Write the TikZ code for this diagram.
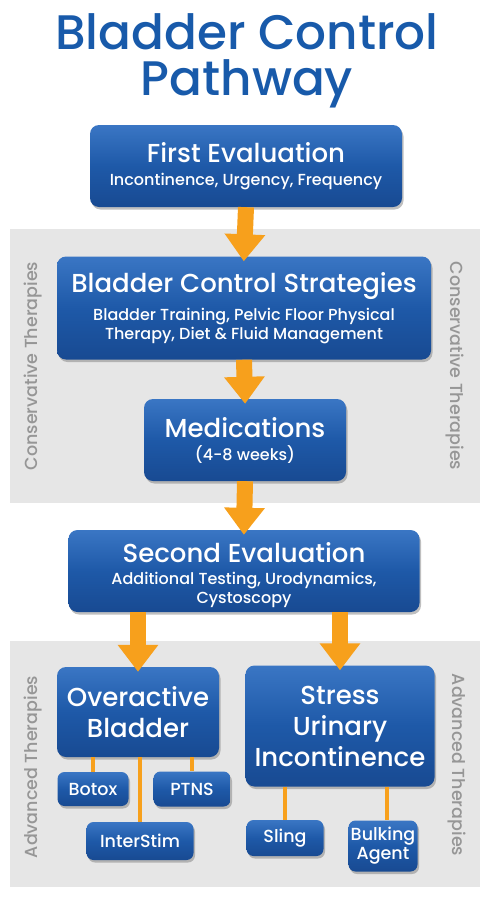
\documentclass[tikz,border=0pt]{standalone}
\usepackage{fontspec}
\IfFontExistsTF{Poppins Medium}
    {\setmainfont{Poppins Medium}}
    {\setmainfont{Poppins}[FakeBold = 1.2]}
\usetikzlibrary{arrows.meta,shadows}

\definecolor{titleblue}{RGB}{24,90,170}
\definecolor{boxblue}{RGB}{30,89,168}
\definecolor{boxtop}{RGB}{58,118,196}
\definecolor{boxbottom}{RGB}{24,74,146}
\definecolor{pathorange}{RGB}{247,160,28}
\definecolor{bandgray}{RGB}{230,230,230}
\definecolor{sidegray}{RGB}{150,150,150}

\newcommand{\headfont}{\fontsize{26}{31}\selectfont}
\newcommand{\notefont}{\fontsize{16}{19}\selectfont}
\newcommand{\leaffont}{\fontsize{17.5}{19}\selectfont}

\begin{document}
\begin{tikzpicture}[x = 1pt, y = -1pt,
    stepbox/.style = {rounded corners = 9pt, top color = boxtop, bottom color = boxbottom,
        middle color = boxblue, text = white, align = center, inner sep = 0pt, font = \notefont,
        drop shadow = {shadow xshift = 1.5pt, shadow yshift = -2.5pt, opacity = 0.5}},
    bigbox/.style = {stepbox, font = \headfont},
    leafbox/.style = {stepbox, rounded corners = 7pt, font = \leaffont},
    fatarrow/.style = {draw = pathorange, line width = 16pt,
        -{Triangle[width = 39pt, length = 27pt]}, shorten > = -5pt},
    twig/.style = {draw = pathorange, line width = 3.5pt},
    sidelabel/.style = {text = sidegray, font = \fontsize{17.5}{20}\selectfont}]
    \useasboundingbox (0,0) rectangle (490,900);

    % gray bands
    \fill[bandgray] (10,229) rectangle (480,503);
    \fill[bandgray] (10,641) rectangle (480,887);

    \node[text = titleblue, align = center, font = \fontsize{48.5}{46}\selectfont] (title) at (247,61)
        {Bladder Control\\Pathway};

    \node[sidelabel, rotate = 90] (consL) at (33,366) {Conservative Therapies};
    \node[sidelabel, rotate = -90] (consR) at (455,366) {Conservative Therapies};
    \node[sidelabel, rotate = 90] (advL) at (33,767) {Advanced Therapies};
    \node[sidelabel, rotate = -90] (advR) at (457,765) {Advanced Therapies};

    % main steps
    \node[stepbox, minimum width = 312pt, minimum height = 82pt] (first) at (246,166)
        {{\headfont First Evaluation}\\[4pt]Incontinence, Urgency, Frequency};
    \node[stepbox, minimum width = 374pt, minimum height = 103pt] (strat) at (244,308)
        {{\headfont Bladder Control Strategies}\\[7pt]Bladder Training, Pelvic Floor Physical\\Therapy, Diet \& Fluid Management};
    \node[stepbox, minimum width = 202pt, minimum height = 82pt] (meds) at (245,440)
        {{\headfont Medications}\\[4pt](4-8 weeks)};
    \node[stepbox, minimum width = 351pt, minimum height = 82pt] (second) at (244,571)
        {{\headfont\rule{0pt}{28pt}Second Evaluation}\\[3pt]Additional Testing, Urodynamics,\\Cystoscopy};

    % advanced therapies
    \node[bigbox, minimum width = 162pt, minimum height = 90pt] (oab) at (138,712)
        {Overactive\\Bladder};
    \node[bigbox, minimum width = 189pt, minimum height = 121pt] (sui) at (340,726)
        {Stress\\Urinary\\Incontinence};
    \node[leafbox, minimum width = 71pt, minimum height = 34pt] (botox) at (93,789) {Botox};
    \node[leafbox, minimum width = 77pt, minimum height = 35pt] (ptns) at (192,789) {PTNS};
    \node[leafbox, minimum width = 107pt, minimum height = 38pt] (interstim) at (140,841) {InterStim};
    \node[leafbox, minimum width = 77pt, minimum height = 36pt] (sling) at (285,838) {Sling};
    \node[leafbox, minimum width = 69pt, minimum height = 51pt] (bulking) at (383,846)
        {Bulking\\Agent};

    % connectors
    \draw[twig] (oab.south -| botox.north) -- (botox.north);
    \draw[twig] (oab.south -| interstim.north) -- (interstim.north);
    \draw[twig] (oab.south -| ptns.north) -- (ptns.north);
    \draw[twig] (sui.south -| sling.north) -- (sling.north);
    \draw[twig] ([xshift = 4pt]sui.south -| bulking.north) -- ([xshift = 4pt]bulking.north);

    \draw[fatarrow] (first.south) -- (strat.north);
    \draw[fatarrow] (strat.south) -- (meds.north);
    \draw[fatarrow] (meds.south) -- (second.north);
    \draw[fatarrow] (second.south -| oab.north) -- (oab.north);
    \draw[fatarrow] (second.south -| sui.north) -- (sui.north);
\end{tikzpicture}
\end{document}
